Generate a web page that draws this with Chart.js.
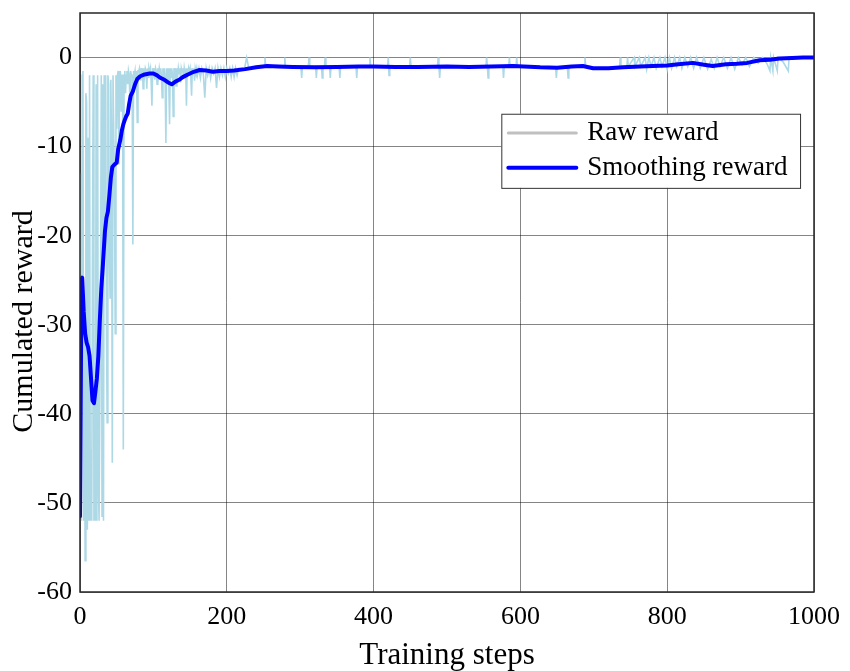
<!DOCTYPE html>
<html>
<head>
<meta charset="utf-8">
<script src="https://cdn.jsdelivr.net/npm/chart.js@4/dist/chart.umd.min.js"></script>
<style>
  html, body { margin: 0; padding: 0; background: #fff; }
  #wrap { width: 850px; height: 671px; }
</style>
</head>
<body>
<div id="wrap"><canvas id="chart" width="850" height="671"></canvas></div>
<script>
/* data */
const xTicks = [0, 200, 400, 600, 800, 1000];
const yTicks = [-60, -50, -40, -30, -20, -10, 0];
const seriesNames = ['Raw reward', 'Smoothing reward'];
const axisTitles = {x: 'Training steps', y: 'Cumulated reward'};

const rawSteps = [
  0,1,2,3,4,5,6,7,8,9,10,11,12,13,14,15,16,17,18,19,20,21,22,23,24,25,26,27,28,29,
  30,31,32,33,34,35,36,37,38,39,40,41,42,43,44,45,46,47,48,49,50,51,52,53,54,55,56,57,58,59,
  60,61,62,63,64,65,66,67,68,69,70,71,72,73,74,75,76,77,78,79,
  80,81,82,83,84,85,86,87,88,89,90,91,92,93,94,95,96,97,98,99,100,101,102,103,104,105,106,107,108,109,
  110,111,112,113,114,115,116,117,118,119,120,121,122,123,124,125,126,127,128,129,130,131,132,133,134,135,136,137,138,139,
  140,141,142,143,144,145,146,147,148,149,150,151,152,153,154,155,156,157,158,159,
  160,162,164,166,168,170,172,174,176,178,180,182,184,186,188,190,192,194,196,198,
  200,202,204,206,208,210,212,214,216,220,224,227,230,235,240,245,250,251,252,253,
  260,268,278,279,280,290,301,302,303,311,312,313,321,322,323,329,330,331,333,334,335,340,341,342,
  353,354,355,365,376,377,378,394,395,396,410,419,420,421,422,435,449,450,451,470,487,488,489,490,491,
  520,540,553,554,555,556,557,576,577,578,584,585,586,594,595,596,620,648,649,650,664,665,666,
  687,688,689,710,730,735,736,737,745,746,747,755,756,762,764,770,772,775,778,782,785,790,793,797,
  800,803,806,810,813,817,820,824,828,832,836,840,845,850,855,860,864,868,872,877,882,887,892,897,
  902,907,912,918,924,930,936,940,941,944,945,950,951,958,965,966,975,985,1000
];
const rawValues = [
  -51,-13,-52,-2,-1.5,-52,-30,-56.5,-4,-5,-53,-9,-52,-2,-52,-44,-52,-20,-2,-52,-38,-52,-3,-52,-2,-48,-52,-52,-25,-2,
  -51.5,-3,-52,-2,-18,-2,-30,-41,-2,-3,-22,-27,-2.5,-10,-45.5,-2,-2,-15,-31,-2,-8,-2,-1.5,-12,-2,-1.5,-6,-2,-2,-44,
  -2,-1.5,-4,-2,-1.5,-3,-1.5,-2,-5,-1.5,-2,-2,-21,-1.5,-2,-1.5,-3,-1.5,-7.3,-1.5,
  -1.5,-1.2,-2.5,-1.2,-1.8,-1.2,-3.5,-1.2,-2,-1.2,-1.5,-3.5,-1.2,-2.2,-1.2,-1.6,-1.2,-2.8,-5.4,-1.2,-1.8,-1.2,-2.5,-1.2,-1.5,-3,-1.2,-2,-1.2,-1.8,
  -1.2,-2.2,-4.5,-1.2,-2,-1.2,-2.5,-9.6,-1.2,-2,-1.2,-3,-7.5,-1.2,-2.2,-1.2,-2,-6.6,-1.2,-1.8,-1.2,-3.2,-1.2,-2.2,-1.2,-1.8,-1.2,-2.8,-1.2,-1.6,
  -1.2,-2.4,-1.2,-1.8,-1.2,-5.4,-1.2,-2,-1.2,-1.6,-1.2,-2.2,-4.3,-1.2,-1.8,-1.2,-2.6,-1.2,-1.6,-1.2,
  -2,-1.2,-2.3,-1.2,-1.8,-4.5,-1.2,-2,-1.2,-2.3,-1.2,-1.8,-1.2,-3.4,-1.2,-2.2,-1.2,-2,-1.2,-2.2,
  -1.2,-1.8,-1.2,-2.2,-1.2,-2.2,-1.2,-2,-1.2,-1.2,-1.3,0,-1.2,-1.1,-1.2,-1.0,-1.0,-1.0,0,-1.0,
  -1.1,-0.9,-1.0,0,-1.0,-1.1,-1.0,-2.3,-1.0,-1.0,0,-1.0,-1.0,-2.3,-1.0,-1.0,-2.3,-1.0,-1.0,0,-1.0,-1.0,-2.3,-1.0,
  -1.0,-2.3,-1.0,-1.0,-1.0,-2.3,-1.0,-1.0,0,-1.0,-1.0,-1.0,0,-2.0,-1.0,-1.0,-1.0,0,-1.0,-1.0,-1.0,0,-1.0,-2.3,-1.0,
  -1.0,-1.0,-1.0,0,-1.0,-2.3,-1.0,-1.0,-2.3,-1.0,-1.0,0,-1.0,-1.0,0,-1.0,-1.1,-1.1,-2.3,-1.1,-1.1,-2.3,-1.1,
  -1.0,0,-1.0,-1.2,-1.1,-1.1,0,-1.0,-1.0,0,-1.0,0,-1.0,0,-1.0,0,-1.3,0,-1.0,0,-1.2,0,-1.0,0,
  -1.3,0,-1.2,0,-1.0,0,-1.2,0,-1.0,0,-1.2,0,-1.2,0,-1.3,-0.2,-1.2,0,-1.0,0,-1.2,0,-1.3,0,
  -0.8,0,-1.0,0,-0.6,0,-0.7,-1.5,0,-1.5,0,-1.5,0,-0.5,-1.5,0,-0.1,0,0
];

const smoothSteps = [
  0,2,3,5,7,9,11,13,15,17,19,21,23,25,27,29,31,34,36,38,40,42,44,47,50,52,55,57,59,61,
  63,65,67,69,72,75,78,82,88,95,100,105,110,115,120,125,130,135,140,147,155,163,172,181,190,200,210,225,240,255,
  270,290,320,350,380,400,430,460,500,530,560,590,627,650,670,685,699,720,740,763,780,800,815,835,850,862,880,895,909,926,
  940,953,970,985,1000
];
const smoothValues = [
  -51.5,-25,-24.7,-28.5,-31,-32,-32.5,-33.5,-36,-38.5,-38.8,-37.5,-36,-33.5,-29.5,-26,-23.5,-19.5,-18,-17.3,-15.5,-13.5,-12.3,-12,-11.8,-10.3,-9.2,-8.2,-7.5,-7,
  -6.6,-6.3,-5.2,-4.3,-3.8,-3.0,-2.4,-2.1,-1.9,-1.8,-1.8,-2.0,-2.3,-2.5,-2.8,-3.0,-2.7,-2.5,-2.2,-1.9,-1.6,-1.4,-1.45,-1.6,-1.5,-1.5,-1.45,-1.3,-1.1,-0.95,
  -1.0,-1.05,-1.1,-1.05,-1.0,-1.0,-1.05,-1.05,-1.0,-1.05,-1.0,-0.95,-1.1,-1.15,-1.0,-0.95,-1.2,-1.2,-1.1,-1.0,-0.95,-0.9,-0.75,-0.6,-0.8,-0.95,-0.75,-0.7,-0.6,-0.3,
  -0.25,-0.1,-0.05,0,0
];

/* helpers */
const zip = (xs, ys) => xs.map((x, i) => ({x, y: ys[i]}));
const FONT = '"Liberation Serif", "Times New Roman", serif';
const RAW_COLOR = '#add8e6';
const RAW_LEGEND = '#c0c0c0';
const SMOOTH_COLOR = '#0000ff';

/* box around plot, y title and in-plot legend, matlab style */
const boxAndLegend = {
  id: 'boxAndLegend',
  afterDatasetsDraw(chart){
    const {ctx, chartArea: a} = chart;
    ctx.save();
    ctx.strokeStyle = '#262626';
    ctx.lineWidth = 1.5;
    ctx.strokeRect(a.left, a.top, a.right - a.left, a.bottom - a.top);

    // y title (drawn here so it can sit a bit below centre like the original)
    ctx.save();
    ctx.translate(24, (a.top + a.bottom) / 2 + 19);
    ctx.rotate(-Math.PI / 2);
    ctx.font = '30px ' + FONT;
    ctx.fillStyle = '#000';
    ctx.textAlign = 'center';
    ctx.textBaseline = 'middle';
    ctx.fillText(axisTitles.y, 0, 0);
    ctx.restore();

    // legend, placed relative to the axes box
    const w = a.right - a.left, h = a.bottom - a.top;
    const bx = a.left + w * 0.574, by = a.top + h * 0.174;
    const bw = w * 0.407, bh = h * 0.128;
    ctx.fillStyle = '#fff';
    ctx.fillRect(bx, by, bw, bh);
    ctx.lineWidth = 1;
    ctx.strokeStyle = '#333';
    ctx.strokeRect(bx + 0.5, by + 0.5, bw, bh);

    const rows = [
      {label: seriesNames[0], color: RAW_LEGEND, width: 3},
      {label: seriesNames[1], color: SMOOTH_COLOR, width: 4}
    ];
    ctx.font = '27px ' + FONT;
    ctx.textBaseline = 'middle';
    ctx.textAlign = 'left';
    rows.forEach((r, i) => {
      const yy = by + bh * (0.26 + i * 0.47);
      ctx.beginPath();
      ctx.strokeStyle = r.color;
      ctx.lineWidth = r.width;
      ctx.lineCap = 'round';
      ctx.moveTo(bx + 7, yy);
      ctx.lineTo(bx + 75, yy);
      ctx.stroke();
      ctx.fillStyle = '#000';
      ctx.fillText(r.label, bx + 86, yy);
    });
    ctx.restore();
  }
};

const tickFont = {family: FONT, size: 26};
const titleFont = {family: FONT, size: 31, lineHeight: 1};
const gridColor = 'rgba(0,0,0,0.48)';

new Chart(document.getElementById('chart'), {
  type: 'line',
  data: {
    datasets: [
      {
        label: seriesNames[1],
        data: zip(smoothSteps, smoothValues),
        borderColor: SMOOTH_COLOR,
        borderWidth: 4,
        pointRadius: 0,
        tension: 0,
        borderJoinStyle: 'round',
        borderCapStyle: 'round'
      },
      {
        label: seriesNames[0],
        data: zip(rawSteps, rawValues),
        borderColor: RAW_COLOR,
        borderWidth: 1.6,
        pointRadius: 0,
        tension: 0
      }
    ]
  },
  options: {
    responsive: false,
    animation: false,
    events: [],
    layout: {padding: {left: 0, right: 36, top: 13, bottom: 0}},
    plugins: {legend: {display: false}, tooltip: {enabled: false}},
    scales: {
      x: {
        type: 'linear',
        min: 0, max: 1000,
        afterBuildTicks: s => { s.ticks = xTicks.map(v => ({value: v})); },
        afterFit: s => { s.height = 79; s.paddingLeft = 0; s.paddingRight = 0; },
        grid: {color: gridColor, lineWidth: 1, drawTicks: false},
        border: {display: false},
        ticks: {font: tickFont, color: '#000', padding: 10, maxRotation: 0, callback: v => String(v)},
        title: {display: true, text: axisTitles.x, font: titleFont, color: '#000', padding: {top: 2, bottom: 0}}
      },
      y: {
        type: 'linear',
        min: -60, max: 5,
        afterBuildTicks: s => { s.ticks = yTicks.map(v => ({value: v})); },
        afterFit: s => { s.width = 80; s.paddingTop = 0; s.paddingBottom = 0; },
        grid: {color: gridColor, lineWidth: 1, drawTicks: false},
        border: {display: false},
        ticks: {font: tickFont, color: '#000', padding: 8, callback: v => String(v)}
      }
    }
  },
  plugins: [boxAndLegend]
});
</script>
</body>
</html>
